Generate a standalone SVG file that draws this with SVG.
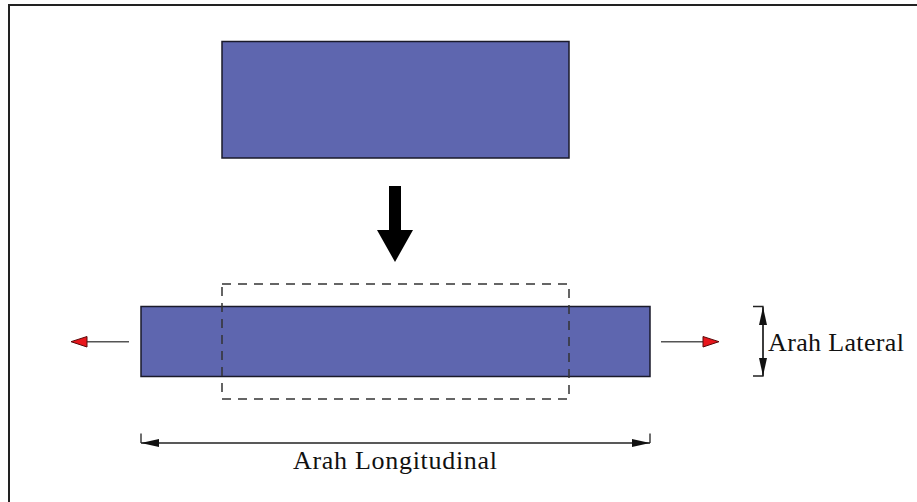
<svg xmlns="http://www.w3.org/2000/svg" width="917" height="502" viewBox="0 0 917 502">
<style>
.plate{fill:#5e66af;stroke:#1a1a2a;stroke-width:1.5}
.lbl{font-family:"Liberation Serif","Times New Roman",serif;font-size:26px;fill:#111}
.dim{stroke:#222;stroke-width:1.3;fill:none}
.red{fill:#e8161c;stroke:#5a0a0a;stroke-width:1}
.pull{stroke:#555;stroke-width:1.6}
</style>
<defs>
<marker id="blk" viewBox="0 0 18 8" refX="18" refY="4" markerWidth="18" markerHeight="8" markerUnits="userSpaceOnUse" orient="auto-start-reverse">
<path d="M0,0 L18,4 L0,8 Z" fill="#111"/>
</marker>
</defs>
<rect width="917" height="502" fill="#fff"/>
<path d="M9,502 V5 H917" fill="none" stroke="#222" stroke-width="2"/>
<g id="plate-top">
<rect class="plate" x="222" y="41.5" width="347" height="116.5"/>
</g>
<g id="press-arrow">
<polygon points="389,186 401,186 401,230 413,230 395,262 377,230 389,230" fill="#000"/>
</g>
<g id="plate-bottom">
<rect class="plate" x="141" y="306.5" width="509" height="70"/>
</g>
<g id="outline-original">
<rect x="222" y="284" width="347" height="115" fill="none" stroke="#333" stroke-width="1.5" stroke-dasharray="9,7"/>
</g>
<g id="connectors">
<line class="pull" x1="129" y1="341.7" x2="86" y2="341.7"/>
<polygon class="red" points="87,336.5 87,347 71,341.7"/>
<line class="pull" x1="661" y1="341.7" x2="704" y2="341.7"/>
<polygon class="red" points="703,336.5 703,347 719,341.7"/>
<path class="dim" d="M753,306.5 H763 V376 H753"/>
<line x1="763" y1="341" x2="763" y2="307" stroke="#222" stroke-width="1.3" marker-end="url(#blk)"/>
<line x1="763" y1="341" x2="763" y2="376" stroke="#222" stroke-width="1.3" marker-end="url(#blk)"/>
<path class="dim" d="M141,433.5 V443 M650,433.5 V443"/>
<line x1="395" y1="443" x2="141" y2="443" stroke="#222" stroke-width="1.3" marker-end="url(#blk)"/>
<line x1="395" y1="443" x2="650" y2="443" stroke="#222" stroke-width="1.3" marker-end="url(#blk)"/>
</g>
<g id="label-lateral">
<text class="lbl" x="768" y="351" textLength="136" lengthAdjust="spacing">Arah Lateral</text>
</g>
<g id="label-longitudinal">
<text class="lbl" x="293" y="469" textLength="204" lengthAdjust="spacing">Arah Longitudinal</text>
</g>
</svg>
